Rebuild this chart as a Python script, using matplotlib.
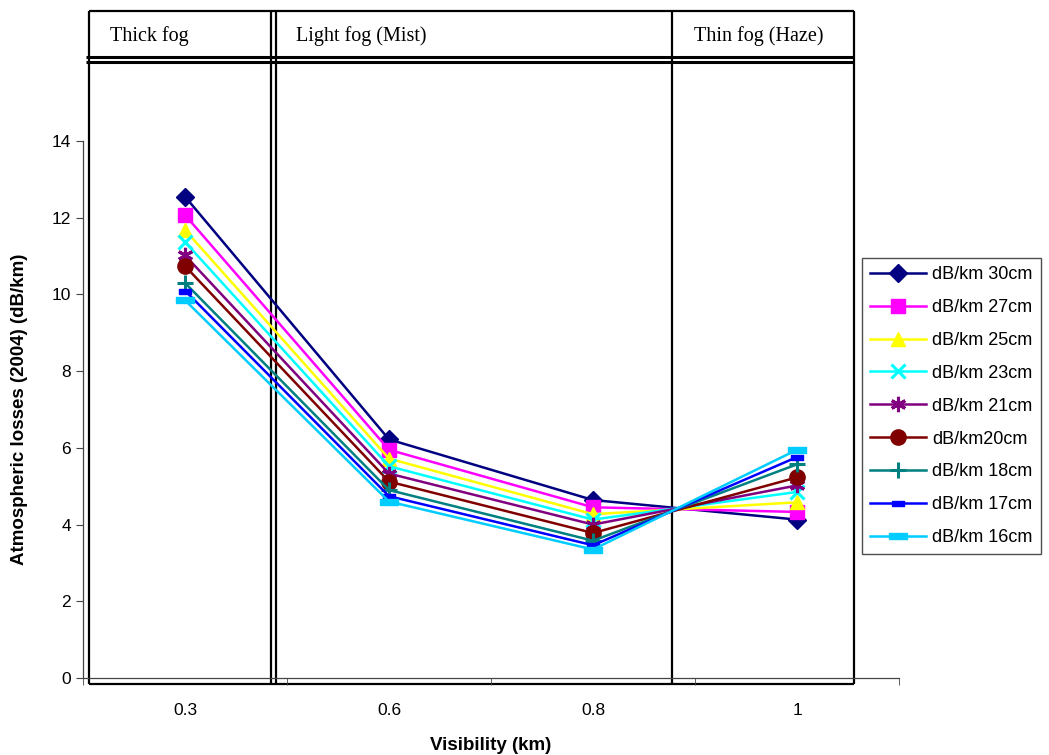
import numpy as np
import matplotlib
matplotlib.use("Agg")
import matplotlib.pyplot as plt
from matplotlib.path import Path

plt.rcParams['font.family'] = ['Liberation Sans', 'DejaVu Sans']

visibility = ['0.3', '0.6', '0.8', '1']
labels = ['dB/km 30cm', 'dB/km 27cm', 'dB/km 25cm', 'dB/km 23cm', 'dB/km 21cm',
          'dB/km20cm', 'dB/km 18cm', 'dB/km 17cm', 'dB/km 16cm']
loss_30 = [12.55, 6.22, 4.64, 4.13]
loss_27 = [12.07, 5.95, 4.45, 4.33]
loss_25 = [11.68, 5.72, 4.27, 4.58]
loss_23 = [11.37, 5.52, 4.13, 4.85]
loss_21 = [11.02, 5.33, 4.00, 5.02]
loss_20 = [10.74, 5.12, 3.78, 5.23]
loss_18 = [10.30, 4.90, 3.58, 5.57]
loss_17 = [10.10, 4.74, 3.46, 5.76]
loss_16 = [9.85, 4.60, 3.35, 5.95]
series = [loss_30, loss_27, loss_25, loss_23, loss_21, loss_20, loss_18, loss_17, loss_16]

fog_names = ['Thick fog', 'Light fog (Mist)', 'Thin fog (Haze)']

# marker shapes
short_bar = Path([(-1, -0.45), (1, -0.45), (1, 0.45), (-1, 0.45), (-1, -0.45)])
long_bar = Path([(-1, -0.28), (1, -0.28), (1, 0.28), (-1, 0.28), (-1, -0.28)])

styles = [
    dict(color='#000080', marker='D', ms=9.5),
    dict(color='#FF00FF', marker='s', ms=10),
    dict(color='#FFFF00', marker='^', ms=10.5),
    dict(color='#00FFFF', marker='x', ms=10, mew=2.2),
    dict(color='#800080', marker=(6, 2, 0), ms=11, mew=2.2),
    dict(color='#800000', marker='o', ms=11),
    dict(color='#008080', marker='+', ms=12, mew=2.2),
    dict(color='#0000FF', marker=short_bar, ms=8),
    dict(color='#00CCFF', marker=long_bar, ms=13),
]

W, H = 1049, 755
fig = plt.figure(figsize=(W / 100, H / 100), dpi=100)

# overlay for the fog table (pixel coordinates)
ov = fig.add_axes([0, 0, 1, 1], zorder=0)
ov.set_xlim(0, W)
ov.set_ylim(H, 0)
ov.axis('off')
lk = dict(color='black', lw=1.6, solid_capstyle='butt')
top, bot = 11, 684
ov.plot([89, 854], [top, top], **lk)
ov.plot([89, 89], [top, bot], **lk)
ov.plot([854, 854], [top, bot], **lk)
ov.plot([89, 854], [bot, bot], **lk)
ov.plot([271, 271], [top, bot], **lk)
ov.plot([276, 276], [top, bot], **lk)
ov.plot([672, 672], [top, bot], **lk)
ov.plot([86, 854], [57, 57], color='black', lw=2.2, solid_capstyle='butt')
ov.plot([86, 854], [62, 62], color='black', lw=2.2, solid_capstyle='butt')
for name, xt in zip(fog_names, [110, 296, 694]):
    ov.text(xt, 36, name, family=['Liberation Serif'], fontsize=14.5,
            va='center', ha='left')

ax = fig.add_axes([83 / W, 1 - 678 / H, (899 - 83) / W, (678 - 141) / H], zorder=1)
ax.patch.set_alpha(0)
x = np.arange(len(visibility))
for vals, lab, st in zip(series, labels, styles):
    ax.plot(x, vals, lw=1.8, label=lab, clip_on=False, **st)

ax.set_xlim(-0.5, len(visibility) - 0.5)
ax.set_ylim(0, 14)
ax.set_yticks(np.arange(0, 15, 2))
ax.set_xticks(x)
ax.set_xticklabels(visibility)
ax.set_xticks(np.arange(-0.5, len(visibility), 1), minor=True)
ax.tick_params(axis='x', which='major', length=0, pad=18, labelsize=12.5)
ax.tick_params(axis='x', which='minor', length=5, direction='out', color='#444444')
ax.tick_params(axis='y', length=5, direction='out', labelsize=12.5, color='#444444')
for s in ['top', 'right']:
    ax.spines[s].set_visible(False)
for s in ['left', 'bottom']:
    ax.spines[s].set_color('#444444')
    ax.spines[s].set_linewidth(0.9)

ax.set_xlabel('Visibility (km)', fontsize=13.5, fontweight='bold', labelpad=14)
ax.set_ylabel('Atmospheric losses (2004) (dB/km)', fontsize=13.5, fontweight='bold',
              labelpad=17)

leg = ax.legend(loc='upper left', bbox_to_anchor=(862 / W, 1 - 258 / H),
                bbox_transform=fig.transFigure, frameon=True, fancybox=False,
                fontsize=13, handlelength=3.1, labelspacing=0.88,
                borderaxespad=0, borderpad=0.45, handletextpad=0.35)
leg.get_frame().set_edgecolor('#222222')
leg.get_frame().set_linewidth(1.0)

fig.savefig('out.png', dpi=100)
